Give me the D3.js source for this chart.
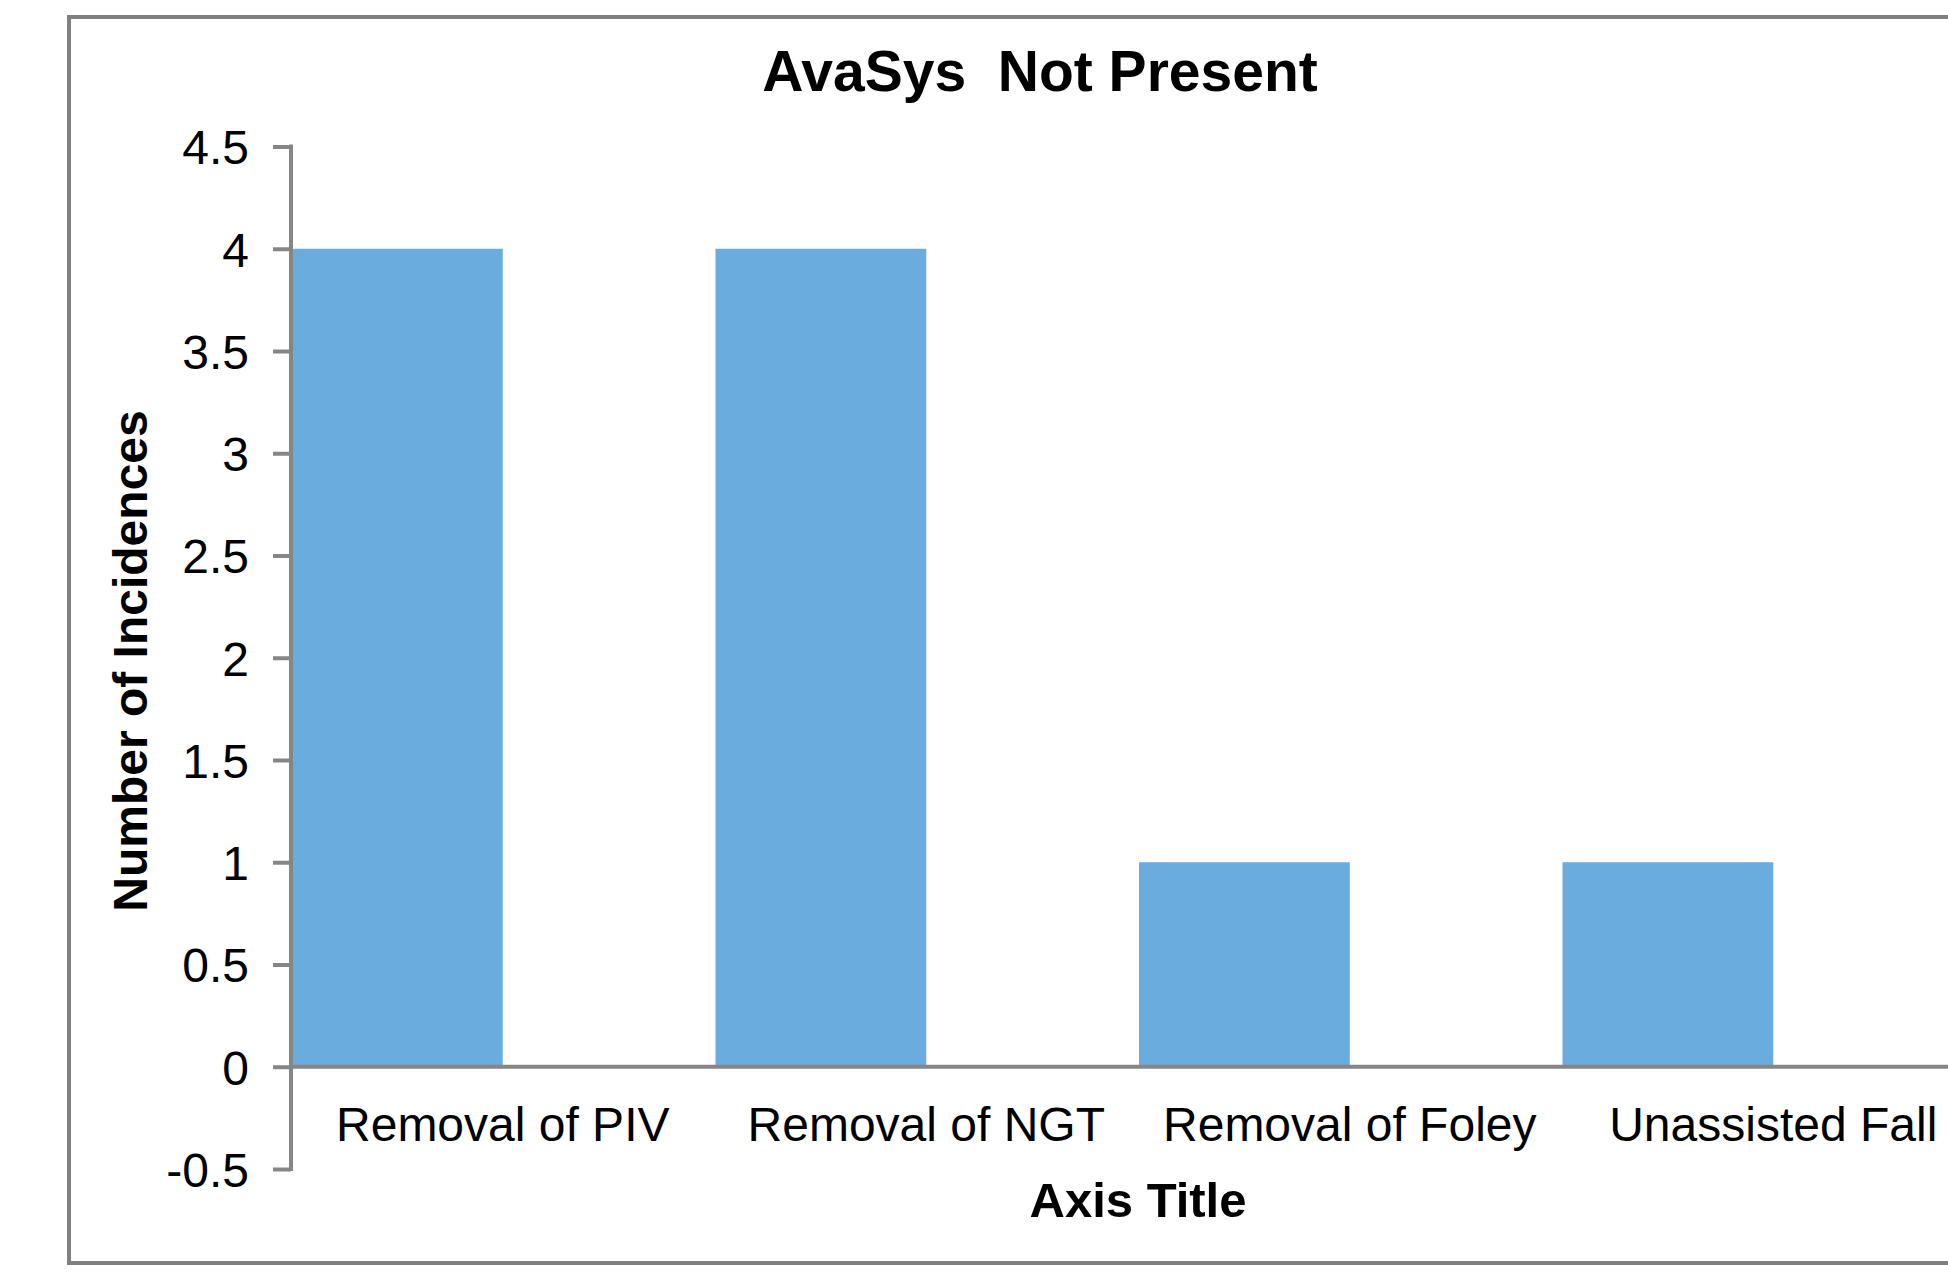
<!DOCTYPE html>
<html>
<head>
<meta charset="utf-8">
<script src="https://cdn.jsdelivr.net/npm/d3@7"></script>
<style>
body{margin:0;background:#fff;}
svg{display:block;font-family:"Liberation Sans",Arial,sans-serif;}
.axis path,.axis line{stroke:#868686;stroke-width:4;}
.axis text{fill:#000;font-size:48px;}
</style>
</head>
<body>
<svg id="chart"></svg>
<script>
const categories=["Removal of PIV","Removal of NGT","Removal of Foley","Unassisted Fall"];
const incidences=[4,4,1,1];
const yTicks=[-0.5,0,0.5,1,1.5,2,2.5,3,3.5,4,4.5];
const chartTitle="AvaSys  Not Present";
const yTitle="Number of Incidences";
const xTitle="Axis Title";

const W=1948,H=1273;
const svg=d3.select("#chart").attr("width",W).attr("height",H);

// ---------- 枠 ----------
svg.append("rect")
    .attr("x",69).attr("y",17)
    .attr("width",W+40).attr("height",1246)
    .attr("fill","#fff")
    .attr("stroke","#808080")
    .attr("stroke-width",4);

const x=d3.scaleBand()
    .domain(categories)
    .range([291,291+4*423.5])
    .paddingInner(0).paddingOuter(0);
const y=d3.scaleLinear()
    .domain([-0.5,4.5])
    .range([1169,146.5]);

// ---------- 棒 ----------
svg.append("g").selectAll("rect")
    .data(incidences)
    .join("rect")
    .attr("x",(d,i)=>x(categories[i])+1)
    .attr("width",x.bandwidth()/2-1)
    .attr("y",d=>y(d))
    .attr("height",d=>y(0)-y(d))
    .attr("fill","#6aacde");

// ---------- 軸 ----------
const yAxis=svg.append("g")
    .attr("class","axis")
    .attr("transform","translate(291,0)")
    .call(d3.axisLeft(y)
        .tickValues(yTicks)
        .tickSize(18)
        .tickPadding(24)
        .tickSizeOuter(0)
        .tickFormat(d=>String(d)));
yAxis.select(".domain").attr("d",`M0,${y(-0.5)+2}V${y(4.5)-2}`);
yAxis.selectAll("text").attr("dy","0.36em");

const xAxis=svg.append("g")
    .attr("class","axis")
    .attr("transform",`translate(0,${y(0)})`)
    .call(d3.axisBottom(x).tickSize(0).tickSizeOuter(0).tickPadding(40));
xAxis.select(".domain").attr("d",`M289,0H${W+10}`);

// ---------- タイトル ----------
svg.append("text")
    .attr("x",1040).attr("y",91)
    .attr("text-anchor","middle")
    .attr("font-weight","bold")
    .attr("font-size",57)
    .style("white-space","pre")
    .text(chartTitle);

svg.append("text")
    .attr("transform","translate(147,661) rotate(-90)")
    .attr("text-anchor","middle")
    .attr("font-weight","bold")
    .attr("font-size",48)
    .text(yTitle);

svg.append("text")
    .attr("x",1138).attr("y",1217)
    .attr("text-anchor","middle")
    .attr("font-weight","bold")
    .attr("font-size",49)
    .text(xTitle);
</script>
</body>
</html>
